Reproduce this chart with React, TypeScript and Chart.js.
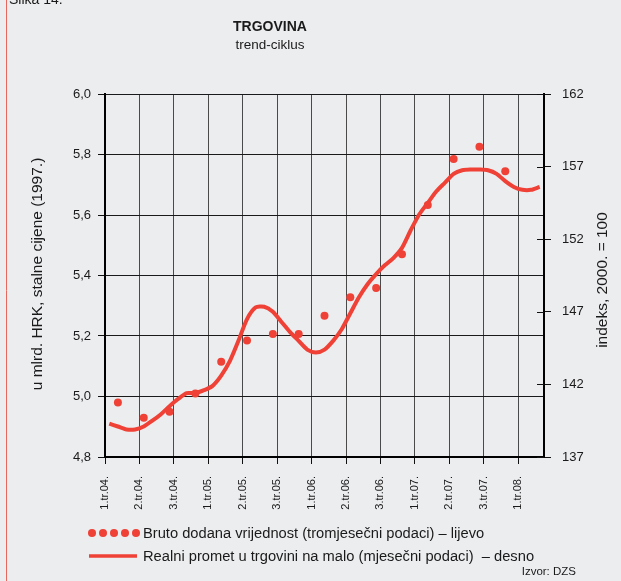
import React, { useEffect, useRef } from 'react';
import { Chart, registerables } from 'chart.js';

Chart.register(...registerables);

const FONT = "'Liberation Sans', Arial, Helvetica, sans-serif";

// x-axis tick labels (every 4 months starting Jan 2004) and their month offsets
const tickLabels = ['1.tr.04.', '2.tr.04.', '3.tr.04.', '1.tr.05.', '2.tr.05.', '3.tr.05.', '1.tr.06.', '2.tr.06.', '3.tr.06.', '1.tr.07.', '2.tr.07.', '3.tr.07.', '1.tr.08.'];
const tickMonths = [0, 4, 8, 12, 16, 20, 24, 28, 32, 36, 40, 44, 48];

// Realni promet u trgovini na malo (monthly, Jan 2004 - Mar 2008), right axis
const monthlyTrade = [
  139.3, 139.1, 138.9, 138.9, 139.1, 139.5, 139.95, 140.5, 141.0, 141.4,
  141.4, 141.6, 141.9, 142.6, 143.6, 145.0, 146.5, 147.3, 147.35, 147.0,
  146.3, 145.6, 145.0, 144.4, 144.2, 144.4, 145.0, 145.8, 146.9, 148.0,
  148.9, 149.6, 150.2, 150.7, 151.4, 152.6, 153.7, 154.5, 155.3, 155.9,
  156.5, 156.75, 156.8, 156.8, 156.75, 156.5, 156.0, 155.6, 155.4, 155.4,
  155.6,
];

// Bruto dodana vrijednost (quarterly, Q1 2004 - Q4 2007), left axis
const quarterlyGVA = [
  4.98, 4.93, 4.95, 5.01, 5.115, 5.185, 5.207, 5.207,
  5.267, 5.328, 5.359, 5.47, 5.633, 5.785, 5.826, 5.745,
];

const leftTicks = [4.8, 5.0, 5.2, 5.4, 5.6, 5.8, 6.0];
const rightTicks = [137, 142, 147, 152, 157, 162];

const RED = '#ef4136';

const decorPlugin = {
  id: 'decor',
  afterDraw(chart: any) {
    const { ctx, chartArea, scales } = chart;
    ctx.save();
    // document frame line
    ctx.strokeStyle = '#e8675c';
    ctx.lineWidth = 1;
    ctx.beginPath();
    ctx.moveTo(6.5, 0);
    ctx.lineTo(6.5, 581);
    ctx.stroke();

    ctx.fillStyle = '#1a1a1a';
    ctx.textBaseline = 'alphabetic';
    ctx.textAlign = 'left';
    ctx.font = `14px ${FONT}`;
    ctx.fillText('Slika 14.', 9, 4);

    // titles
    ctx.textAlign = 'center';
    ctx.textBaseline = 'middle';
    ctx.font = `bold 14px ${FONT}`;
    ctx.fillText('TRGOVINA', 270, 27);
    ctx.font = `13.5px ${FONT}`;
    ctx.fillText('trend-ciklus', 270, 45);

    // axis titles
    ctx.font = `15.5px ${FONT}`;
    ctx.save();
    ctx.translate(38, 274);
    ctx.rotate(-Math.PI / 2);
    ctx.fillText('u mlrd. HRK, stalne cijene (1997.)', 0, 0);
    ctx.restore();
    ctx.save();
    ctx.translate(603, 280);
    ctx.rotate(-Math.PI / 2);
    ctx.fillText('indeks, 2000. = 100', 0, 0);
    ctx.restore();

    // inner tick marks of right axis
    const yR = scales.yRight;
    ctx.strokeStyle = '#111';
    ctx.lineWidth = 1;
    yR.ticks.forEach((t: any) => {
      const y = Math.round(yR.getPixelForValue(t.value)) + 0.5;
      ctx.beginPath();
      ctx.moveTo(chartArea.right - 7, y);
      ctx.lineTo(chartArea.right, y);
      ctx.stroke();
    });

    // legend
    ctx.fillStyle = RED;
    for (let i = 0; i < 5; i++) {
      ctx.beginPath();
      ctx.arc(92 + i * 11, 533, 4, 0, Math.PI * 2);
      ctx.fill();
    }
    ctx.strokeStyle = RED;
    ctx.lineWidth = 3.5;
    ctx.beginPath();
    ctx.moveTo(89, 556);
    ctx.lineTo(137, 556);
    ctx.stroke();

    ctx.fillStyle = '#1a1a1a';
    ctx.textAlign = 'left';
    ctx.textBaseline = 'middle';
    ctx.font = `14.7px ${FONT}`;
    ctx.fillText('Bruto dodana vrijednost (tromjesečni podaci) – lijevo', 143, 534);
    ctx.fillText('Realni promet u trgovini na malo (mjesečni podaci)  – desno', 143, 557);

    ctx.textAlign = 'right';
    ctx.font = `11.5px ${FONT}`;
    ctx.fillText('Izvor: DZS', 576, 572);
    ctx.restore();
  },
};

export default function App() {
  const ref = useRef<HTMLCanvasElement | null>(null);

  useEffect(() => {
    if (!ref.current) return;
    const lineData = monthlyTrade.map((v, i) => ({ x: i + 0.5, y: v }));
    const dotData = quarterlyGVA.map((v, k) => ({ x: k * 3 + 1.5, y: v }));

    const chart = new Chart(ref.current, {
      type: 'line',
      data: {
        datasets: [
          {
            label: 'Bruto dodana vrijednost (tromjesečni podaci) – lijevo',
            data: dotData,
            yAxisID: 'yLeft',
            showLine: false,
            pointRadius: 4,
            pointBackgroundColor: RED,
            pointBorderWidth: 0,
            borderColor: RED,
          },
          {
            label: 'Realni promet u trgovini na malo (mjesečni podaci) – desno',
            data: lineData,
            yAxisID: 'yRight',
            borderColor: RED,
            borderWidth: 4,
            pointRadius: 0,
            tension: 0.25,
            borderCapStyle: 'butt',
            borderJoinStyle: 'round',
          },
        ],
      },
      options: {
        responsive: false,
        animation: false,
        events: [],
        layout: { padding: { top: 94, left: 0, right: 0, bottom: 0 } },
        plugins: {
          legend: { display: false },
          title: { display: false },
          tooltip: { enabled: false },
        },
        scales: {
          x: {
            type: 'linear',
            min: 0,
            max: 51,
            afterBuildTicks: (s: any) => {
              s.ticks = tickMonths.map((v) => ({ value: v }));
            },
            afterFit: (s: any) => {
              s.height = 124;
            },
            grid: {
              color: '#4a4a4a',
              lineWidth: 1,
              tickLength: 7,
              tickColor: '#111',
            },
            border: { display: true, color: '#000', width: 2 },
            ticks: {
              autoSkip: false,
              minRotation: 90,
              maxRotation: 90,
              padding: 12,
              color: '#1a1a1a',
              font: { family: FONT, size: 11 },
              callback: (v: any) => {
                const i = tickMonths.indexOf(Number(v));
                return i >= 0 ? tickLabels[i] : '';
              },
            },
          },
          yLeft: {
            type: 'linear',
            position: 'left',
            min: 4.8,
            max: 6.0,
            afterBuildTicks: (s: any) => {
              s.ticks = leftTicks.map((v) => ({ value: v }));
            },
            afterFit: (s: any) => {
              s.width = 105;
            },
            grid: {
              color: '#1a1a1a',
              lineWidth: 1,
              tickLength: 7,
              tickColor: '#111',
            },
            border: { display: true, color: '#000', width: 2 },
            ticks: {
              padding: 7,
              color: '#1a1a1a',
              font: { family: FONT, size: 13 },
              callback: (v: any) => Number(v).toFixed(1).replace('.', ','),
            },
          },
          yRight: {
            type: 'linear',
            position: 'right',
            min: 137,
            max: 162,
            afterBuildTicks: (s: any) => {
              s.ticks = rightTicks.map((v) => ({ value: v }));
            },
            afterFit: (s: any) => {
              s.width = 77;
            },
            grid: {
              drawOnChartArea: false,
              tickLength: 7,
              tickColor: '#111',
            },
            border: { display: true, color: '#000', width: 2 },
            ticks: {
              padding: 11,
              color: '#1a1a1a',
              font: { family: FONT, size: 13 },
              callback: (v: any) => String(v),
            },
          },
        },
      },
      plugins: [decorPlugin],
    });
    return () => chart.destroy();
  }, []);

  return (
    <div
      style={{
        position: 'absolute',
        left: 0,
        top: 0,
        width: 621,
        height: 581,
        background: '#ecedef',
        overflow: 'hidden',
      }}
    >
      <canvas ref={ref} width={621} height={581} style={{ display: 'block', width: 621, height: 581 }} />
    </div>
  );
}
